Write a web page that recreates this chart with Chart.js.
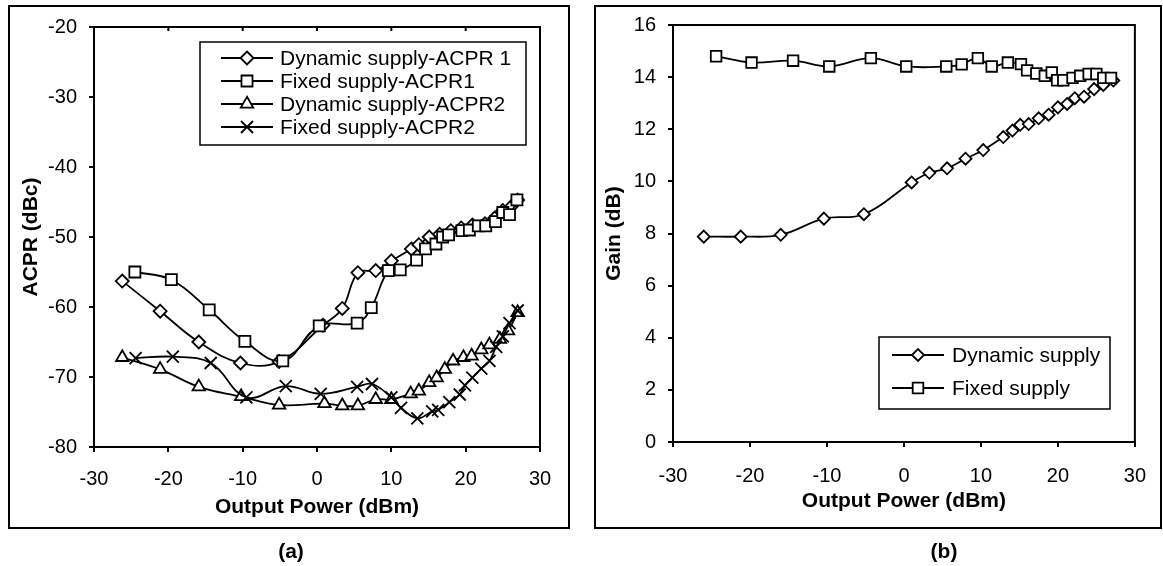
<!DOCTYPE html>
<html lang="en">
<head>
<meta charset="UTF-8">
<title>ACPR and Gain vs Output Power</title>
<script src="https://cdn.jsdelivr.net/npm/chart.js@4"></script>
<style>
  body {
    margin: 0;
    background: #fff;
    width: 1163px;
    height: 566px;
    position: relative;
    overflow: hidden;
    font-family: Arial, 'Liberation Sans', sans-serif;
  }
  .frame { position: absolute; border: 2px solid #000; box-sizing: border-box; }
  #frameA { left: 8px; top: 5px; width: 562px; height: 524px; }
  #frameB { left: 594px; top: 5px; width: 568px; height: 524px; }
  canvas { position: absolute; top: 0; }
  #chartA { left: 0; }
  #chartB { left: 580px; }
  .caption {
    position: absolute;
    top: 539px;
    font: bold 21px Arial, 'Liberation Sans', sans-serif;
    transform: translateX(-50%);
  }
</style>
</head>
<body>

<div class="frame" id="frameA"></div>
<div class="frame" id="frameB"></div>
<canvas id="chartA" width="580" height="566"></canvas>
<canvas id="chartB" width="583" height="566"></canvas>
<div class="caption" style="left:291px">(a)</div>
<div class="caption" style="left:944px">(b)</div>

<script>
// ---- panel (a): ACPR vs output power ----
const dynAcpr1X = [-26.2, -21.1, -15.9, -10.3, -5.1, 0.8, 3.4, 5.5, 7.9, 10.0, 12.7, 13.7, 15.1, 16.5, 18.0, 19.4, 20.9, 22.6, 23.9, 25.0, 26.0, 27.0];
const dynAcpr1  = [-56.3, -60.6, -65.0, -68.0, -67.8, -62.6, -60.2, -55.1, -54.8, -53.4, -51.7, -51.1, -50.0, -49.6, -49.1, -48.7, -48.3, -48.1, -47.3, -46.2, -45.8, -44.7];

const fixAcpr1X = [-24.5, -19.6, -14.5, -9.7, -4.6, 0.3, 5.4, 7.3, 9.6, 11.2, 13.4, 14.6, 16.0, 16.9, 17.7, 19.5, 20.5, 21.7, 22.7, 24.0, 25.0, 25.9, 26.9];
const fixAcpr1  = [-55.0, -56.1, -60.4, -64.9, -67.7, -62.7, -62.3, -60.1, -54.8, -54.7, -53.3, -51.7, -51.0, -50.0, -49.7, -49.1, -49.0, -48.4, -48.4, -47.8, -46.5, -46.8, -44.7];

const dynAcpr2X = [-26.2, -21.1, -15.9, -10.2, -5.1, 1.0, 3.4, 5.5, 7.9, 10.0, 12.6, 13.7, 15.1, 16.1, 17.2, 18.3, 19.7, 20.8, 22.1, 23.2, 24.6, 25.7, 27.0];
const dynAcpr2  = [-67.2, -68.9, -71.4, -72.8, -74.0, -73.8, -74.1, -74.1, -73.2, -73.2, -72.4, -72.0, -70.8, -70.1, -68.9, -67.7, -67.2, -67.0, -66.1, -65.4, -64.6, -63.4, -60.8];

const fixAcpr2X = [-24.4, -19.4, -14.3, -9.5, -4.2, 0.5, 5.4, 7.4, 10.0, 11.3, 13.5, 15.5, 16.3, 17.8, 19.2, 19.9, 20.9, 22.1, 23.2, 24.1, 25.0, 25.9, 27.0];
const fixAcpr2  = [-67.3, -67.1, -68.0, -72.9, -71.3, -72.4, -71.4, -71.0, -72.9, -74.4, -75.9, -74.9, -74.7, -73.6, -72.5, -71.2, -70.1, -68.8, -67.7, -65.7, -64.2, -62.3, -60.5];

// ---- panel (b): gain vs output power ----
const dynGainX = [-26.0, -21.2, -16.0, -10.4, -5.2, 1.0, 3.3, 5.6, 8.0, 10.3, 12.9, 14.1, 15.1, 16.2, 17.5, 18.8, 20.0, 21.2, 22.2, 23.4, 24.7, 25.9, 27.2];
const dynGain  = [7.88, 7.88, 7.95, 8.57, 8.74, 9.96, 10.33, 10.5, 10.87, 11.2, 11.7, 11.95, 12.17, 12.2, 12.42, 12.56, 12.84, 12.97, 13.19, 13.25, 13.54, 13.7, 13.87];

const fixGainX = [-24.4, -19.8, -14.4, -9.7, -4.3, 0.3, 5.5, 7.5, 9.6, 11.4, 13.5, 15.2, 16.0, 17.2, 18.3, 19.2, 19.9, 20.7, 21.9, 22.9, 24.0, 25.0, 25.9, 26.9];
const fixGain  = [14.8, 14.56, 14.63, 14.41, 14.73, 14.41, 14.41, 14.49, 14.73, 14.41, 14.56, 14.5, 14.26, 14.14, 14.05, 14.18, 13.88, 13.88, 13.97, 14.05, 14.12, 14.12, 13.97, 13.97];

const xTicks = [-30, -20, -10, 0, 10, 20, 30];
const acprTicks = [-80, -70, -60, -50, -40, -30, -20];
const gainTicks = [0, 2, 4, 6, 8, 10, 12, 14, 16];

const FONT = "Arial, 'Liberation Sans', sans-serif";

function pts(xs, ys) {
  return xs.map((x, i) => ({ x: x, y: ys[i] }));
}

function series(label, xs, ys, style, radius, order) {
  return {
    label: label,
    data: pts(xs, ys),
    showLine: true,
    borderColor: '#000',
    borderWidth: 1.8,
    backgroundColor: '#fff',
    pointStyle: style,
    pointRadius: radius,
    pointBorderWidth: 1.8,
    pointBorderColor: '#000',
    pointBackgroundColor: '#fff',
    tension: 0.4,
    order: order
  };
}

// markers for the legend box
function marker(ctx, style, r, x, y) {
  ctx.beginPath();
  if (style === 'rectRot') {
    ctx.moveTo(x - r, y); ctx.lineTo(x, y - r); ctx.lineTo(x + r, y); ctx.lineTo(x, y + r);
    ctx.closePath();
  } else if (style === 'rect') {
    const s = r * Math.SQRT1_2;
    ctx.rect(x - s, y - s, 2 * s, 2 * s);
  } else if (style === 'triangle') {
    ctx.moveTo(x, y - r);
    ctx.lineTo(x + 0.866 * r, y + 0.5 * r);
    ctx.lineTo(x - 0.866 * r, y + 0.5 * r);
    ctx.closePath();
  } else {
    const s = r * Math.SQRT1_2;
    ctx.moveTo(x - s, y - s); ctx.lineTo(x + s, y + s);
    ctx.moveTo(x - s, y + s); ctx.lineTo(x + s, y - s);
    ctx.stroke();
    return;
  }
  ctx.fill();
  ctx.stroke();
}

const boxLegend = {
  id: 'boxLegend',
  afterDraw(chart, args, opts) {
    const ctx = chart.ctx;
    const a = chart.chartArea;
    ctx.save();
    // plot area frame
    ctx.strokeStyle = '#000';
    ctx.lineWidth = 2;
    ctx.strokeRect(a.left, a.top, a.right - a.left, a.bottom - a.top);
    // small inward ticks on the top edge
    if (opts.topTicks) {
      const xs = chart.scales.x;
      xs.ticks.forEach(t => {
        if (t.value <= xs.min || t.value >= xs.max) return;
        const px = xs.getPixelForValue(t.value);
        ctx.beginPath();
        ctx.moveTo(px, a.top);
        ctx.lineTo(px, a.top + 4);
        ctx.stroke();
      });
    }
    // legend box
    ctx.fillStyle = '#fff';
    ctx.fillRect(opts.left, opts.top, opts.width, opts.height);
    ctx.lineWidth = 1.5;
    ctx.strokeRect(opts.left, opts.top, opts.width, opts.height);
    ctx.font = '21px ' + FONT;
    ctx.textBaseline = 'middle';
    chart.data.datasets.forEach((ds, i) => {
      const y = opts.rows[i];
      ctx.strokeStyle = '#000';
      ctx.lineWidth = 1.8;
      ctx.beginPath();
      ctx.moveTo(opts.lineFrom, y);
      ctx.lineTo(opts.lineTo, y);
      ctx.stroke();
      ctx.fillStyle = '#fff';
      marker(ctx, ds.pointStyle, ds.pointRadius, (opts.lineFrom + opts.lineTo) / 2, y);
      ctx.fillStyle = '#000';
      ctx.fillText(ds.label, opts.textX, y + 1);
    });
    ctx.restore();
  }
};

function axisX(titlePad, tickPad, tickVals, fitHeight) {
  return {
    type: 'linear',
    min: tickVals[0],
    max: tickVals[tickVals.length - 1],
    afterBuildTicks: s => { s.ticks = tickVals.map(v => ({ value: v })); },
    ticks: { color: '#000', font: { family: FONT, size: 20 }, padding: tickPad, maxRotation: 0 },
    grid: { drawOnChartArea: false, tickLength: 5, color: '#000', lineWidth: 2 },
    border: { color: '#000', width: 2 },
    title: {
      display: true, text: 'Output Power (dBm)', color: '#000',
      font: { family: FONT, size: 21, weight: 'bold' },
      padding: { top: 0, bottom: titlePad }
    },
    afterFit: s => { s.height = fitHeight; }
  };
}

function axisY(title, titlePad, tickVals, fitWidth) {
  return {
    type: 'linear',
    min: tickVals[0],
    max: tickVals[tickVals.length - 1],
    afterBuildTicks: s => { s.ticks = tickVals.map(v => ({ value: v })); },
    ticks: { color: '#000', font: { family: FONT, size: 20 }, padding: 12 },
    grid: { drawOnChartArea: false, tickLength: 5, color: '#000', lineWidth: 2 },
    border: { color: '#000', width: 2 },
    title: {
      display: true, text: title, color: '#000',
      font: { family: FONT, size: 21, weight: 'bold' },
      padding: { top: titlePad, bottom: 0 }
    },
    afterFit: s => { s.width = fitWidth; }
  };
}

new Chart(document.getElementById('chartA'), {
  type: 'scatter',
  data: {
    datasets: [
      series('Dynamic supply-ACPR 1', dynAcpr1X, dynAcpr1, 'rectRot', 6.5, 4),
      series('Fixed supply-ACPR1', fixAcpr1X, fixAcpr1, 'rect', 7.8, 3),
      series('Dynamic supply-ACPR2', dynAcpr2X, dynAcpr2, 'triangle', 7.2, 2),
      series('Fixed supply-ACPR2', fixAcpr2X, fixAcpr2, 'crossRot', 8.5, 1)
    ]
  },
  options: {
    responsive: false,
    animation: false,
    devicePixelRatio: 1,
    layout: { padding: { left: 0, right: 40, top: 27, bottom: 0 } },
    scales: {
      x: axisX(46, 15, xTicks, 119),
      y: axisY('ACPR (dBc)', 19, acprTicks, 94)
    },
    plugins: {
      legend: { display: false },
      tooltip: { enabled: false },
      boxLegend: {
        left: 200, top: 42, width: 326, height: 103,
        rows: [58, 81, 104, 127],
        lineFrom: 221, lineTo: 273, textX: 280,
        topTicks: true
      }
    }
  },
  plugins: [boxLegend]
});

new Chart(document.getElementById('chartB'), {
  type: 'scatter',
  data: {
    datasets: [
      series('Dynamic supply', dynGainX, dynGain, 'rectRot', 6, 2),
      series('Fixed supply', fixGainX, fixGain, 'rect', 7.5, 1)
    ]
  },
  options: {
    responsive: false,
    animation: false,
    devicePixelRatio: 1,
    layout: { padding: { left: 0, right: 24, top: 25, bottom: 0 } },
    scales: {
      x: axisX(52, 17, xTicks, 124),
      y: axisY('Gain (dB)', 22, gainTicks, 93)
    },
    plugins: {
      legend: { display: false },
      tooltip: { enabled: false },
      boxLegend: {
        left: 299, top: 337, width: 231, height: 72,
        rows: [355, 388],
        lineFrom: 312, lineTo: 364, textX: 372,
        topTicks: false
      }
    }
  },
  plugins: [boxLegend]
});
</script>

</body>
</html>
